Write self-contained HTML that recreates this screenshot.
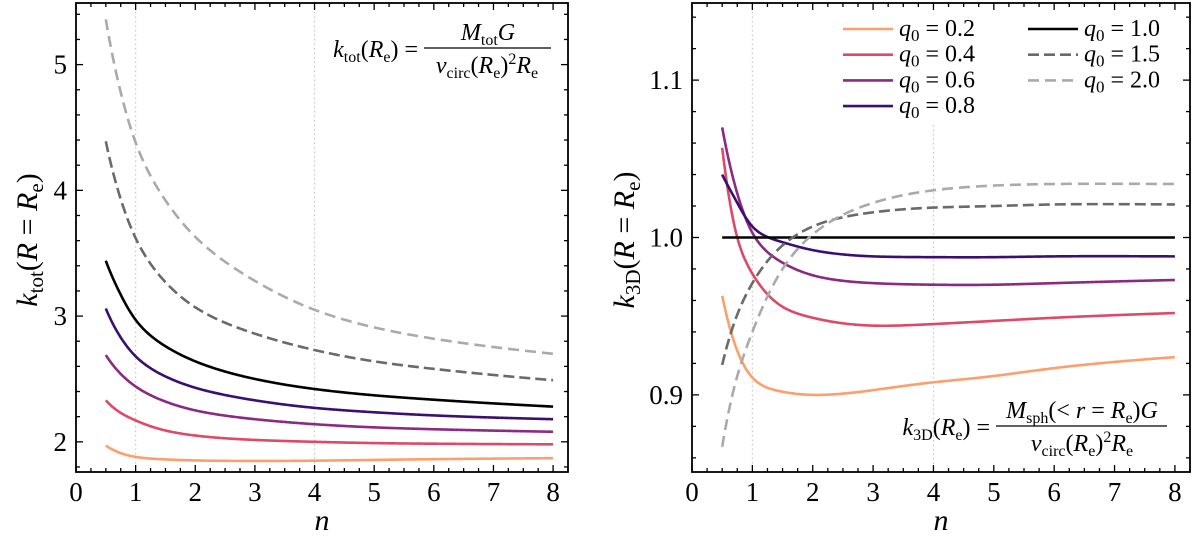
<!DOCTYPE html>
<html><head><meta charset="utf-8"><style>
html,body{margin:0;padding:0;background:#fff}
svg{display:block}
text{font-family:"Liberation Serif","Times New Roman",Times,"Nimbus Roman","FreeSerif","DejaVu Serif",serif;fill:#000}
.it{font-style:italic}
</style></head><body>
<svg id="chart" width="1200" height="542" viewBox="0 0 1200 542" xmlns="http://www.w3.org/2000/svg">
<g id="left"></g>
<g id="right"></g>
<g id="ann">
  <text x="418" y="57" font-size="24" text-anchor="end"><tspan class="it">k</tspan><tspan font-size="16" dy="5">tot</tspan><tspan dy="-5">(</tspan><tspan class="it">R</tspan><tspan font-size="16" dy="5">e</tspan><tspan dy="-5">) =</tspan></text>
  <line x1="424" y1="48" x2="551" y2="48" stroke="#000" stroke-width="1.2"/>
  <text x="488" y="40" font-size="24" text-anchor="middle"><tspan class="it">M</tspan><tspan font-size="16" dy="5">tot</tspan><tspan class="it" dy="-5">G</tspan></text>
  <text x="487" y="73" font-size="24" text-anchor="middle"><tspan class="it">v</tspan><tspan font-size="16" dy="5">circ</tspan><tspan dy="-5">(</tspan><tspan class="it">R</tspan><tspan font-size="16" dy="5">e</tspan><tspan dy="-5">)</tspan><tspan font-size="16" dy="-9">2</tspan><tspan class="it" dy="9">R</tspan><tspan font-size="16" dy="5">e</tspan></text>
  <text x="990" y="435" font-size="24" text-anchor="end"><tspan class="it">k</tspan><tspan font-size="16" dy="5">3D</tspan><tspan dy="-5">(</tspan><tspan class="it">R</tspan><tspan font-size="16" dy="5">e</tspan><tspan dy="-5">) =</tspan></text>
  <line x1="996" y1="426" x2="1167" y2="426" stroke="#000" stroke-width="1.2"/>
  <text x="1082" y="418" font-size="24" text-anchor="middle"><tspan class="it">M</tspan><tspan font-size="16" dy="5">sph</tspan><tspan dy="-5">(&lt; </tspan><tspan class="it">r</tspan><tspan> = </tspan><tspan class="it">R</tspan><tspan font-size="16" dy="5">e</tspan><tspan dy="-5">)</tspan><tspan class="it">G</tspan></text>
  <text x="1082" y="451" font-size="24" text-anchor="middle"><tspan class="it">v</tspan><tspan font-size="16" dy="5">circ</tspan><tspan dy="-5">(</tspan><tspan class="it">R</tspan><tspan font-size="16" dy="5">e</tspan><tspan dy="-5">)</tspan><tspan font-size="16" dy="-9">2</tspan><tspan class="it" dy="9">R</tspan><tspan font-size="16" dy="5">e</tspan></text>
</g>
<g id="legend"></g>
</svg>
<script>
const nVals = [0.5, 0.75, 1, 1.5, 2, 3, 4, 5, 6, 8];
const seriesNames = ["q0 = 0.2","q0 = 0.4","q0 = 0.6","q0 = 0.8","q0 = 1.0","q0 = 1.5","q0 = 2.0"];
const legendLabels = ["0.2","0.4","0.6","0.8","1.0","1.5","2.0"];
const kTot02 = [1.97,1.91,1.88,1.86,1.852,1.848,1.85,1.856,1.862,1.87];
const kTot04 = [2.33,2.23,2.17,2.09,2.05,2.015,2.0,1.99,1.985,1.98];
const kTot06 = [2.69,2.54,2.44,2.32,2.25,2.18,2.14,2.115,2.10,2.08];
const kTot08 = [3.06,2.83,2.68,2.52,2.43,2.33,2.27,2.235,2.21,2.18];
const kTot10 = [3.44,3.17,2.97,2.76,2.64,2.50,2.42,2.37,2.335,2.28];
const kTot15 = [4.39,3.93,3.62,3.27,3.07,2.86,2.73,2.64,2.58,2.49];
const kTot20 = [5.36,4.78,4.38,3.92,3.63,3.28,3.05,2.91,2.82,2.70];
const k3d02 = [0.963,0.928,0.911,0.902,0.900,0.903,0.908,0.912,0.917,0.924];
const k3d04 = [1.057,1.000,0.977,0.956,0.949,0.944,0.945,0.947,0.949,0.952];
const k3d06 = [1.070,1.028,1.003,0.984,0.976,0.971,0.970,0.970,0.971,0.973];
const k3d08 = [1.040,1.022,1.007,0.997,0.992,0.988,0.9875,0.9875,0.988,0.988];
const k3d10 = [1,1,1,1,1,1,1,1,1,1];
const k3d15 = [0.919,0.951,0.971,0.995,1.007,1.016,1.019,1.020,1.021,1.021];
const k3d20 = [0.867,0.912,0.940,0.980,1.002,1.022,1.030,1.033,1.034,1.034];
const xTicks = [0,1,2,3,4,5,6,7,8];
const leftYTicks = [2,3,4,5];
const leftYLabels = ["2","3","4","5"];
const rightYTicks = [0.9,1.0,1.1];
const rightYLabels = ["0.9","1.0","1.1"];

const colors = ["#fd9f6c","#de4968","#8c2981","#3b0f70","#000000","#6a6a6a","#aaaaaa"];
const dashes = [null,null,null,null,null,"11,5","11,6"];
const NS = "http://www.w3.org/2000/svg";
function mk(tag, attrs, parent){const e=document.createElementNS(NS,tag);for(const k in attrs)e.setAttribute(k,attrs[k]);parent.appendChild(e);return e;}

// natural cubic spline in log(n) space
function spline(xs0, ys){
  const xs=xs0.map(Math.log), n=xs.length;
  const h=[],a=new Array(n).fill(0),b=new Array(n).fill(0),c=new Array(n).fill(0),r=new Array(n).fill(0);
  for(let i=0;i<n-1;i++) h.push(xs[i+1]-xs[i]);
  b[0]=1;b[n-1]=1;
  for(let i=1;i<n-1;i++){a[i]=h[i-1];b[i]=2*(h[i-1]+h[i]);c[i]=h[i];r[i]=6*((ys[i+1]-ys[i])/h[i]-(ys[i]-ys[i-1])/h[i-1]);}
  for(let i=1;i<n;i++){const w=a[i]/b[i-1];b[i]-=w*c[i-1];r[i]-=w*r[i-1];}
  const M=new Array(n);M[n-1]=r[n-1]/b[n-1];
  for(let i=n-2;i>=0;i--)M[i]=(r[i]-c[i]*M[i+1])/b[i];
  return x0=>{
    const x=Math.log(x0);let i=0;while(i<n-2&&x>xs[i+1])i++;
    const t=x-xs[i],u=xs[i+1]-x,hh=h[i];
    return M[i]*u*u*u/(6*hh)+M[i+1]*t*t*t/(6*hh)+(ys[i]/hh-M[i]*hh/6)*u+(ys[i+1]/hh-M[i+1]*hh/6)*t;
  };
}

function panel(g, cfg){
  const X=v=>cfg.x0+(v-cfg.xmin)/(cfg.xmax-cfg.xmin)*(cfg.x1-cfg.x0);
  const Y=v=>cfg.y1-(v-cfg.ymin)/(cfg.ymax-cfg.ymin)*(cfg.y1-cfg.y0);
  [1,4].forEach((n,i)=>{
    const l=mk("line",{x1:X(n),x2:X(n),y1:(i==1&&cfg.guideTop)?cfg.guideTop:cfg.y0,y2:cfg.y1,stroke:"#c8c8c8","stroke-width":1.2,"stroke-dasharray":"1.5,3"},g);
    
    
  });
  cfg.series.forEach((s,i)=>{
    const f=spline(nVals,s);
    const a=nVals[0], b=nVals[nVals.length-1];
    let d="";
    for(let k=0;k<=400;k++){
      const x=a+(b-a)*k/400;
      d+=(k?"L":"M")+X(x).toFixed(2)+","+Y(f(x)).toFixed(2);
    }
    const p=mk("path",{d:d,fill:"none",stroke:colors[i],"stroke-width":2.6,"stroke-linejoin":"round"},g);
    if(dashes[i])p.setAttribute("stroke-dasharray",dashes[i]);
    
    
  });
  const tk=mk("g",{stroke:"#000","stroke-width":1.3},g);
  
  
  for(let v=0;v<=cfg.xmax+1e-9;v+=0.25){
    const major=Math.abs(v-Math.round(v))<1e-6, L=major?7:4;
    mk("line",{x1:X(v),x2:X(v),y1:cfg.y1,y2:cfg.y1-L},tk);
    mk("line",{x1:X(v),x2:X(v),y1:cfg.y0,y2:cfg.y0+L},tk);
  }
  const ystart=Math.ceil(cfg.ymin/cfg.ym-1e-9)*cfg.ym;
  for(let v=ystart;v<=cfg.ymax+1e-9;v+=cfg.ym){
    const major=Math.abs(v/cfg.yM-Math.round(v/cfg.yM))<1e-6, L=major?7:4;
    mk("line",{x1:cfg.x0,x2:cfg.x0+L,y1:Y(v),y2:Y(v)},tk);
    mk("line",{x1:cfg.x1,x2:cfg.x1-L,y1:Y(v),y2:Y(v)},tk);
  }
  const fr=mk("rect",{x:cfg.x0,y:cfg.y0,width:cfg.x1-cfg.x0,height:cfg.y1-cfg.y0,fill:"none",stroke:"#000","stroke-width":1.8},g);
  
  
  xTicks.forEach(v=>{
    const t=mk("text",{x:X(v),y:cfg.y1+29,"font-size":27,"text-anchor":"middle"},g);
    t.textContent=v;
    
    
  });
  cfg.yt.forEach((v,i)=>{
    const t=mk("text",{x:cfg.x0-9,y:Y(v)+9,"font-size":27,"text-anchor":"end"},g);
    t.textContent=cfg.yl[i];
    
    
  });
  const xt=mk("text",{x:(cfg.x0+cfg.x1)/2,y:530,"font-size":30,"text-anchor":"middle","class":"it"},g);
  xt.textContent="n";
  
  
  const yt=mk("text",{x:0,y:0,"font-size":30,"text-anchor":"middle",transform:"translate("+cfg.ytx+",240) rotate(-90)"},g);
  yt.innerHTML='<tspan class="it">k</tspan><tspan font-size="21" dy="6">'+cfg.sub+'</tspan><tspan dy="-6">(</tspan><tspan class="it">R</tspan><tspan> = </tspan><tspan class="it">R</tspan><tspan font-size="21" dy="6">e</tspan><tspan dy="-6">)</tspan>';
  
  
}

panel(document.getElementById("left"),{x0:76,x1:568,xmin:0,xmax:8.25,y0:3,y1:472,ymin:1.76,ymax:5.49,ym:0.2,yM:1,
  yt:leftYTicks,yl:leftYLabels,series:[kTot02,kTot04,kTot06,kTot08,kTot10,kTot15,kTot20],ytx:37,sub:"tot"});
panel(document.getElementById("right"),{x0:692,x1:1190,xmin:0,xmax:8.25,y0:3,y1:472,ymin:0.851,ymax:1.149,ym:0.02,yM:0.1,
  yt:rightYTicks,yl:rightYLabels,series:[k3d02,k3d04,k3d06,k3d08,k3d10,k3d15,k3d20],ytx:634,sub:"3D",guideTop:125});

const lg=document.getElementById("legend");
legendLabels.forEach((lab,i)=>{
  const col=i<4?0:1, row=i<4?i:i-4;
  const lx=col?1028:843, ly=29+row*25.7;
  const e=mk("g",{},lg);
  
  
  const l=mk("line",{x1:lx,x2:lx+50,y1:ly,y2:ly,stroke:colors[i],"stroke-width":2.6},e);
  if(dashes[i])l.setAttribute("stroke-dasharray",dashes[i]);
  const t=mk("text",{x:lx+56,y:ly+7,"font-size":24},e);
  t.innerHTML='<tspan class="it">q</tspan><tspan font-size="17" dy="5">0</tspan><tspan dy="-5"> = '+lab+'</tspan>';
});
</script>
</body></html>
